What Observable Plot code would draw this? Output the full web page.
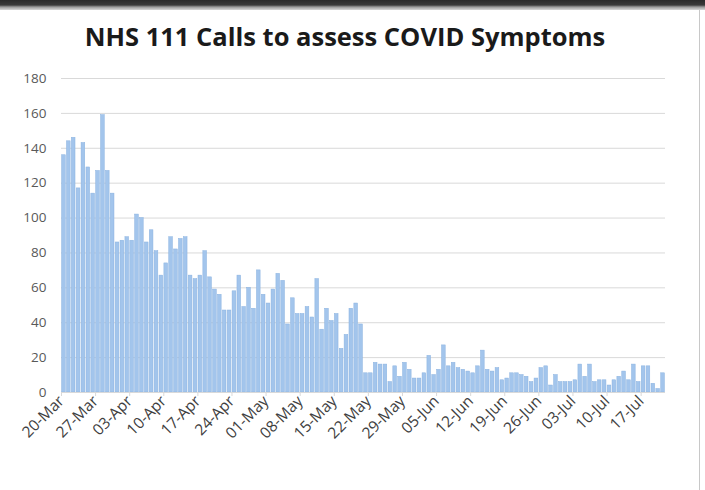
<!DOCTYPE html>
<html>
<head>
<meta charset="utf-8">
<script src="https://cdn.jsdelivr.net/npm/d3@7"></script>
<script src="https://cdn.jsdelivr.net/npm/@observablehq/plot@0.6"></script>
<style>
  html, body { margin: 0; padding: 0; background: #fff; }
  #wrap { position: relative; width: 705px; height: 490px; overflow: hidden; background: #fff; }
  #topbar { position: absolute; left: 0; top: 0; width: 705px; height: 10px;
    background: linear-gradient(#2a2a2a 0px, #3a3a3a 5px, #9a9a9a 7px, #d8d8d8 10px); }
  #rightline { position: absolute; left: 699px; top: 10px; width: 1px; height: 480px; background: #c8c8c8; }
  #title { position: absolute; left: 0; top: 19px; width: 690px; text-align: center;
    font-family: "Open Sans", sans-serif; font-weight: 700; font-size: 25.5px; color: #1a1a1a; }
  #chart { position: absolute; left: 0; top: 60px; }
</style>
</head>
<body>
<div id="wrap">
  <div id="topbar"></div>
  <div id="rightline"></div>
  <div id="title">NHS 111 Calls to assess COVID Symptoms</div>
  <div id="chart"></div>
</div>
<script>
// Daily NHS 111 calls, starting 20-Mar-2020 (one value per day)
const startDate = "2020-03-20";
const calls = [
  136, 144, 146, 117, 143, 129, 114, 127, 159, 127,
  114, 86, 87, 89, 87, 102, 100, 86, 93, 81,
  67, 74, 89, 82, 88, 89, 67, 65, 67, 81,
  66, 59, 56, 47, 47, 58, 67, 49, 60, 48,
  70, 56, 51, 59, 68, 64, 39, 54, 45, 45,
  49, 43, 65, 36, 48, 41, 45, 25, 33, 48,
  51, 39, 11, 11, 17, 16, 16, 6, 15, 9,
  17, 13, 8, 8, 11, 21, 10, 13, 27, 15,
  17, 14, 13, 12, 11, 15, 24, 13, 12, 14,
  7, 8, 11, 11, 10, 9, 6, 8, 14, 15,
  4, 10, 6, 6, 6, 7, 16, 9, 16, 6,
  7, 7, 4, 7, 9, 12, 7, 16, 6, 15,
  15, 5, 2, 11
];
const yTicks = [0, 20, 40, 60, 80, 100, 120, 140, 160, 180];
const xTickLabels = ["20-Mar", "27-Mar", "03-Apr", "10-Apr", "17-Apr", "24-Apr", "01-May", "08-May",
  "15-May", "22-May", "29-May", "05-Jun", "12-Jun", "19-Jun", "26-Jun", "03-Jul", "10-Jul", "17-Jul"];

const start = d3.utcParse("%Y-%m-%d")(startDate);
const data = calls.map((v, i) => ({ date: d3.utcDay.offset(start, i), value: v }));
const parseTick = d3.utcParse("%d-%b-%Y");
const xTicks = xTickLabels.map(s => parseTick(s + "-2020"));
const end = d3.utcDay.offset(start, calls.length);

const chart = Plot.plot({
  width: 705,
  height: 430,
  marginLeft: 61,
  marginRight: 40,
  marginTop: 18,
  marginBottom: 98,
  style: { fontFamily: "Open Sans, sans-serif", fontSize: "12px", color: "#595959", background: "transparent" },
  x: { type: "utc", domain: [start, end], label: null },
  y: { domain: [0, 180], label: null },
  marks: [
    Plot.ruleY(yTicks.filter(d => d > 0), { stroke: "#d9d9d9", strokeWidth: 1 }),
    Plot.rectY(data, { x: "date", y: "value", interval: d3.utcDay, fill: "#a3c5ec",
      stroke: "#8ab2e0", strokeWidth: 0.5, insetLeft: 0.6, insetRight: 0.6 }),
    Plot.ruleY([0], { stroke: "#d9d9d9", strokeWidth: 1 }),
    Plot.axisX({ ticks: xTicks, tickFormat: d3.utcFormat("%d-%b"), tickRotate: -45,
      tickSize: 4, tickPadding: 2, stroke: "#d9d9d9", fill: "#404040", fontSize: 15.5 }),
    Plot.axisY({ ticks: yTicks, tickSize: 0, tickPadding: 15, fill: "#595959", fontSize: 13.5 })
  ]
});
document.getElementById("chart").appendChild(chart);
</script>
</body>
</html>
